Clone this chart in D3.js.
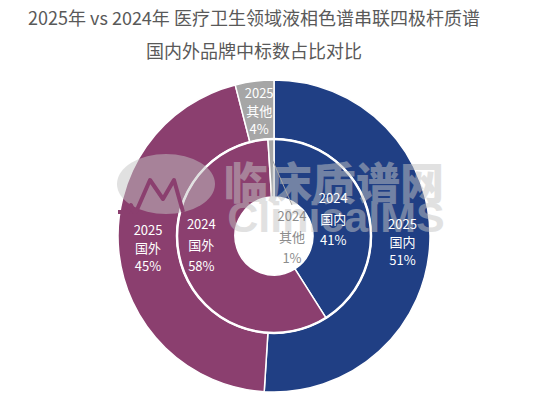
<!DOCTYPE html>
<html><head><meta charset="utf-8">
<script src="https://cdn.jsdelivr.net/npm/d3@7"></script>
<style>html,body{margin:0;padding:0;background:#fff;}svg{display:block;}</style>
</head><body>
<script>
// ---- data ----
const categories = ["国内", "国外", "其他"];
const years = ["2025", "2024"];
const values2025 = [51, 45, 4];
const values2024 = [41, 58, 1];
const titleLines = ["2025年 vs 2024年 医疗卫生领域液相色谱串联四极杆质谱", "国内外品牌中标数占比对比"];

// ---- layout / style ----
const W = 560, H = 395;
const cx = 274, cy = 236;
const rHole = 39, rMid = 97, rOuter = 156;
const colors = d3.scaleOrdinal().domain(categories).range(["#203f84", "#8b3f6f", "#a6a6a6"]);
const font = "'Noto Sans CJK SC','Noto Sans',sans-serif";

const svg = d3.select("body").append("svg").attr("width", W).attr("height", H);
svg.append("rect").attr("width", W).attr("height", H).attr("fill", "#fff");

// title
svg.append("g").selectAll("text").data(titleLines).join("text")
  .attr("x", 254).attr("y", (d, i) => 25 + i * 33)
  .attr("text-anchor", "middle").attr("font-family", font).attr("font-size", 18)
  .attr("fill", "#595959").text(d => d);

const pie = d3.pie().sort(null).value(d => d.v).startAngle(0).endAngle(2 * Math.PI);
const rings = [
  { year: years[0], vals: values2025, r0: rMid, r1: rOuter },
  { year: years[1], vals: values2024, r0: rHole, r1: rMid }
];

const g = svg.append("g").attr("transform", `translate(${cx},${cy})`);
rings.forEach(ring => {
  const arcs = pie(categories.map((c, i) => ({ c, v: ring.vals[i] })));
  ring.arcs = arcs;
  ring.arc = d3.arc().innerRadius(ring.r0).outerRadius(ring.r1);
  g.append("g").selectAll("path").data(arcs).join("path")
    .attr("d", ring.arc).attr("fill", d => colors(d.data.c))
    .attr("stroke", "#fff").attr("stroke-width", 1.5).attr("stroke-linejoin", "round");
});
// white ring between the two donuts
g.append("circle").attr("r", rMid).attr("fill", "none").attr("stroke", "#fff").attr("stroke-width", 2.5);

// watermark
const wm = svg.append("g").attr("opacity", 0.5);
wm.append("ellipse").attr("cx", 166).attr("cy", 184).attr("rx", 49).attr("ry", 30).attr("fill", "#c4c4c4");
wm.append("text").attr("x", 334).attr("y", 200).attr("text-anchor", "middle")
  .attr("font-family", font).attr("font-weight", 900).attr("font-size", 44)
  .attr("fill", "#c4c4c4").text("临床质谱网");
wm.append("text").attr("x", 336).attr("y", 232).attr("text-anchor", "middle")
  .attr("font-family", "'Liberation Sans',Arial,sans-serif").attr("font-weight", "bold").attr("font-size", 43)
  .attr("fill", "#c4c4c4").text("ClinicalMS");
svg.append("path").attr("d", "M118,212 L128,212 L131,205 L134,212 L136,212 L150,180 L163,199 L174,180 L183,212")
  .attr("fill", "none").attr("stroke", "#8b3f6f").attr("stroke-width", 4).attr("stroke-linejoin", "round");

// labels
const nudges = {
  "2025国内": [2, 2, 18], "2025国外": [0, 0, 18], "2025其他": [1, 0, 18],
  "2024国内": [-6, 2, 21], "2024国外": [-8, -12, 21]
};
const lab = svg.append("g").attr("transform", `translate(${cx},${cy})`)
  .attr("font-family", font).attr("font-size", 13).attr("text-anchor", "middle");
rings.forEach(ring => {
  ring.arcs.forEach(a => {
    const key = ring.year + a.data.c;
    const pct = a.data.v + "%";
    const lines = [ring.year, a.data.c, pct];
    if (nudges[key]) {
      const [x, y] = ring.arc.centroid(a);
      const [dx, dy, sp] = nudges[key];
      lab.append("g").selectAll("text").data(lines).join("text")
        .attr("x", x + dx).attr("y", (d, i) => y + dy + (i - 1) * sp + 5)
        .attr("fill", "#fff").text(d => d);
    } else {
      // small slice: label in the hole with a leader line
      const ang = (a.startAngle + a.endAngle) / 2;
      const rr = (ring.r0 + ring.r1) / 2 + 10;
      const p0 = [Math.sin(ang) * rr, -Math.cos(ang) * rr];
      const lx = 18, ly = 1;
      lab.append("line").attr("x1", p0[0]).attr("y1", p0[1]).attr("x2", lx).attr("y2", ly - 32)
        .attr("stroke", "#a6a6a6").attr("stroke-width", 1);
      lab.append("g").selectAll("text").data(lines).join("text")
        .attr("x", lx).attr("y", (d, i) => ly + (i - 1) * 21 + 5)
        .attr("fill", "#8c8c8c").text(d => d);
    }
  });
});
</script>
</body></html>
